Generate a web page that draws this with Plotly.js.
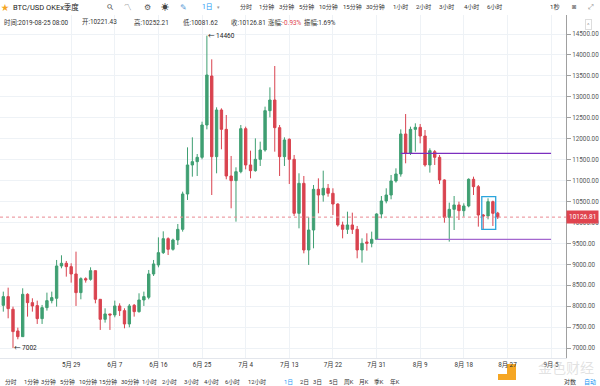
<!DOCTYPE html>
<html>
<head>
<meta charset="utf-8">
<script src="https://cdn.plot.ly/plotly-3.0.1.min.js"></script>
<style>html,body{margin:0;padding:0;background:#fff;}#chart{width:600px;height:386px;}</style>
</head>
<body>
<div id="chart"></div>
<script>
// ---- data (daily candles, BTC/USD OKEx quarterly) ----
const dates = [
'2019-05-15','2019-05-16','2019-05-17','2019-05-18','2019-05-19','2019-05-20','2019-05-21','2019-05-22','2019-05-23','2019-05-24',
'2019-05-25','2019-05-26','2019-05-27','2019-05-28','2019-05-29','2019-05-30','2019-05-31','2019-06-01','2019-06-02','2019-06-03',
'2019-06-04','2019-06-05','2019-06-06','2019-06-07','2019-06-08','2019-06-09','2019-06-10','2019-06-11','2019-06-12','2019-06-13',
'2019-06-14','2019-06-15','2019-06-16','2019-06-17','2019-06-18','2019-06-19','2019-06-20','2019-06-21','2019-06-22','2019-06-23',
'2019-06-24','2019-06-25','2019-06-26','2019-06-27','2019-06-28','2019-06-29','2019-06-30','2019-07-01','2019-07-02','2019-07-03',
'2019-07-04','2019-07-05','2019-07-06','2019-07-07','2019-07-08','2019-07-09','2019-07-10','2019-07-11','2019-07-12','2019-07-13',
'2019-07-14','2019-07-15','2019-07-16','2019-07-17','2019-07-18','2019-07-19','2019-07-20','2019-07-21','2019-07-22','2019-07-23',
'2019-07-24','2019-07-25','2019-07-26','2019-07-27','2019-07-28','2019-07-29','2019-07-30','2019-07-31','2019-08-01','2019-08-02',
'2019-08-03','2019-08-04','2019-08-05','2019-08-06','2019-08-07','2019-08-08','2019-08-09','2019-08-10','2019-08-11','2019-08-12',
'2019-08-13','2019-08-14','2019-08-15','2019-08-16','2019-08-17','2019-08-18','2019-08-19','2019-08-20','2019-08-21','2019-08-22',
'2019-08-23','2019-08-24','2019-08-25'];
const opens = [
8020,8228,7925,7408,7272,8283,8084,8013,7702,7965,
8132,8188,8960,9024,8944,8769,8323,8657,8641,8848,
8164,7686,7814,7790,8005,7893,7575,8021,7869,8148,
8212,8769,8984,9278,9612,9358,9581,9835,10679,11372,
11451,11555,12327,13497,11571,12685,12223,11109,10998,11212,
12239,11372,11236,11507,11730,12669,12924,12263,11571,11985,
11507,10218,10934,9342,9819,10791,10655,10815,10695,10440,
9939,9835,9939,9835,9342,9533,9501,9597,10202,10512,
10655,10990,11157,12112,11650,12223,12271,12064,11372,11690,
11555,11014,10122,10313,10417,10281,10393,11030,10854,10178,
10154,10496,10221.43];
const highs = [
8347,8442,7989,7487,8427,8307,8188,8132,8029,8323,
8347,9103,9215,9080,9024,9302,8689,8689,8928,8848,
8164,7949,7814,8132,8068,7949,8052,8052,8307,8347,
8864,9103,9644,9787,9644,9612,9963,10735,11793,12032,
11634,12406,14460,13895,12749,12725,12566,11587,11316,12327,
12287,11714,12008,11929,12765,13226,13736,12327,12032,12008,
11611,11173,11109,10122,10894,11053,11236,10918,10815,10456,
10018,10257,10233,9915,9620,9740,9780,10218,10631,10815,
11133,11292,12223,12589,12287,12367,12351,12207,11770,11730,
11611,11030,10472,10631,10496,10456,11053,11093,10894,10202,
10576,10520,10252.21];
const lows = [
7869,7710,7002,7209,7265,7750,7869,7575,7575,7893,
8068,7989,8904,8705,8562,8005,8164,8562,8609,8068,
7432,7607,7432,7734,7766,7471,7495,7750,7845,8005,
8164,8721,8928,9246,9222,9326,9461,9780,10536,11093,
11109,11507,12223,10655,11173,11746,11030,10337,10018,11173,
11268,11053,11212,11348,11690,12510,11690,11109,11348,10918,
10154,9859,9262,8984,9382,10218,10496,10615,10178,9899,
9620,9724,9724,9143,9040,9326,9406,9581,10098,10456,
10552,10950,11093,11412,11611,11690,11889,11332,11189,11372,
10918,9994,9541,9819,10058,10138,10361,10655,9899,9835,
10074,9915,10081.62];
const closes = [
8228,7941,7392,7272,8283,8084,8005,7702,7965,8132,
8204,8960,9024,8944,8769,8323,8657,8625,8848,8164,
7686,7814,7790,8005,7893,7575,8005,7869,8148,8228,
8769,9008,9278,9612,9358,9581,9835,10679,11372,11451,
11555,12327,13521,11571,12685,12223,11109,10998,11212,12239,
11372,11236,11507,11730,12669,12924,12263,11571,11969,11507,
10218,10934,9342,9819,10791,10655,10815,10695,10440,9939,
9835,9939,9835,9342,9501,9501,9597,10202,10512,10655,
10990,11157,12112,11650,12223,12271,12064,11372,11714,11555,
11014,10122,10313,10417,10281,10393,11030,10854,10178,10154,
10496,10218,10126.81];

const tickDates = ['2019-05-29','2019-06-07','2019-06-16','2019-06-25','2019-07-04','2019-07-13','2019-07-22','2019-07-31','2019-08-09','2019-08-18','2019-08-27','2019-09-05'];
const tickLabels = ['5月 29','6月 7','6月 16','6月 25','7月 4','7月 13','7月 22','7月 31','8月 9','8月 18','8月 27','9月 5'];

// horizontal support/resistance lines drawn on the chart
const levelStarts = ['2019-08-05','2019-07-31'];
const levelEnds   = ['2019-09-05','2019-09-05'];
const levelPrices = [11650, 9596];
// highlighted box (last few candles)
const boxStart = '2019-08-21 17:00', boxEnd = '2019-08-24 14:00', boxLow = 9835, boxHigh = 10616;
// extremes marked on the chart
const highDate = '2019-06-26', highValue = 14460;
const lowDate = '2019-05-17', lowValue = 7002;
const lastPrice = 10126.81;

// ---- styling ----
const G = '#3f9f72', R = '#d9434f';
const FONT = 'Roboto, "Noto Sans CJK SC", sans-serif';
const W = 566, T = 15, B = 358;
const ax = x => x / W, ay = y => (B - y) / (B - T);
function txt(text, x, y, size, color, anchor, family, extra) {
  return Object.assign({xref:'paper', yref:'paper', x:ax(x), y:ay(y), text:text, showarrow:false,
    xanchor:anchor||'center', yanchor:'middle', font:{size:size, color:color, family:family||FONT}}, extra||{});
}

const annotations = [];
// header row 1
annotations.push(txt('★', 5, 7, 8, '#f5a623'));
annotations.push(txt('BTC/USD OKEx季度', 11, 7, 7.5, '#222', 'left'));
annotations.push(txt('⚲', 110, 7, 8, '#555', 'center', null, {textangle:-45}));
annotations.push(txt('〽', 128, 7, 7.5, '#555'));
annotations.push(txt('⚙', 147, 7, 8, '#555'));
annotations.push(txt('☀', 165, 7, 8, '#444'));
annotations.push(txt('✎', 183, 7, 8, '#5b9bd5'));
annotations.push(txt('1日', 207, 7, 6.8, '#2196f3'));
annotations.push(txt('▾', 218, 7, 5, '#999'));
const topItems = ['分时','1分钟','3分钟','5分钟','10分钟','15分钟','30分钟','1小时','2小时','3小时','4小时','6小时'];
const topX = [246,266,286,306,328,352,376,400,423,447,471,494];
topItems.forEach((t,i)=>annotations.push(txt(t, topX[i], 7, 6, '#333')));
annotations.push(txt('1秒', 555, 7, 6.2, '#333'));
annotations.push(txt('◙', 574, 7, 7, '#888'));
annotations.push(txt('⤢', 591, 7, 7, '#888'));
// header row 2 (OHLC info)
const infoText = ['时间:2019-08-25 08:00','开:10221.43','高:10252.21','低:10081.62','收:10126.81',
  '涨幅:<span style="color:#e0444f">-0.93%</span>','振幅:1.69%'];
const infoX = [2,80,132,181,229,266,302];
infoText.forEach((t,i)=>annotations.push(txt(t, infoX[i], 22, 6.4, '#333', 'left')));
annotations.push(txt('^', 588, 24, 6, '#999', 'center', FONT, {bordercolor:'#dddddd', borderwidth:1, borderpad:1}));
// bottom toolbar
const botItems = ['分时','1分钟','3分钟','5分钟','10分钟','15分钟','30分钟','1小时','2小时','3小时','4小时','6小时','12小时','1日','2日','3日','5日','周K','月K','季K','年K'];
const botX = [11,31,48,67,88,108,130,149,169,191,211,232,257,288,304,317,333,349,364,379,395];
botItems.forEach((t,i)=>annotations.push(txt(t, botX[i], 382, 5.8, t==='1日' ? '#2196f3' : '#333')));
annotations.push(txt('对数', 570, 382, 6, '#333'));
annotations.push(txt('自动', 590, 382, 6, '#2196f3'));
// watermark
annotations.push(txt('金色财经', 566, 368, 14, 'rgba(190,190,190,0.45)'));
// extremes
annotations.push({xref:'x', yref:'y', x:highDate, y:highValue, text:'← '+highValue, showarrow:false, xanchor:'left', yanchor:'middle', xshift:-1, font:{size:6.5, color:'#222', family:FONT}});
annotations.push({xref:'x', yref:'y', x:lowDate, y:lowValue, text:'← '+lowValue, showarrow:false, xanchor:'left', yanchor:'middle', xshift:-1, font:{size:6.5, color:'#222', family:FONT}});
// last price label on axis
annotations.push({xref:'paper', yref:'y', x:1, y:lastPrice, text:lastPrice.toFixed(2), showarrow:false, xanchor:'left', yanchor:'middle',
  bgcolor:'#e0444f', borderpad:2, font:{size:6.5, color:'#fff', family:FONT}});

const shapes = [];
levelPrices.forEach((p,i)=>shapes.push({type:'line', xref:'x', yref:'y', x0:levelStarts[i], x1:levelEnds[i], y0:p, y1:p,
  line:{color: i===0 ? '#7b2fbf' : '#a467cf', width:1.3}}));
shapes.push({type:'line', xref:'paper', yref:'y', x0:0, x1:1, y0:lastPrice, y1:lastPrice, line:{color:'#e98a92', width:1, dash:'dot'}});
shapes.push({type:'rect', xref:'x', yref:'y', x0:boxStart, x1:boxEnd, y0:boxLow, y1:boxHigh, line:{color:'#2aa5dc', width:1.3}});
// logo blocks
shapes.push({type:'rect', xref:'paper', yref:'paper', x0:ax(507), x1:ax(516), y0:ay(380), y1:ay(364), fillcolor:'#f5a623', line:{width:0}, layer:'below'});
shapes.push({type:'rect', xref:'paper', yref:'paper', x0:ax(498), x1:ax(516), y0:ay(380), y1:ay(374), fillcolor:'#f5a623', line:{width:0}, layer:'below'});

const trace = {
  type:'candlestick', x:dates, open:opens, high:highs, low:lows, close:closes,
  increasing:{line:{color:G, width:1}, fillcolor:G},
  decreasing:{line:{color:R, width:1}, fillcolor:R},
  whiskerwidth:0, hoverinfo:'skip'
};

const layout = {
  width:600, height:386,
  margin:{l:0, r:34, t:15, b:28},
  paper_bgcolor:'#fff', plot_bgcolor:'#fff',
  showlegend:false,
  font:{family:FONT, size:6.5, color:'#444'},
  xaxis:{type:'date', range:['2019-05-14 07:40','2019-09-08 02:00'], tickvals:tickDates, ticktext:tickLabels,
    showgrid:true, gridcolor:'#eef2f6', gridwidth:1, zeroline:false, showline:true, linecolor:'#e3e6ec',
    ticks:'', tickfont:{size:6.3, color:'#333'}, rangeslider:{visible:false}, fixedrange:true},
  yaxis:{side:'right', range:[6762,14954], tick0:0, dtick:500, tickformat:'.2f',
    showgrid:true, gridcolor:'#eef2f6', zeroline:false, showline:true, linecolor:'#a0a0a0',
    ticks:'outside', ticklen:4, tickcolor:'#a0a0a0', tickfont:{size:6.3, color:'#555'}, fixedrange:true},
  annotations:annotations,
  shapes:shapes
};

Plotly.newPlot('chart', [trace], layout, {displayModeBar:false, staticPlot:true});
</script>
</body>
</html>
